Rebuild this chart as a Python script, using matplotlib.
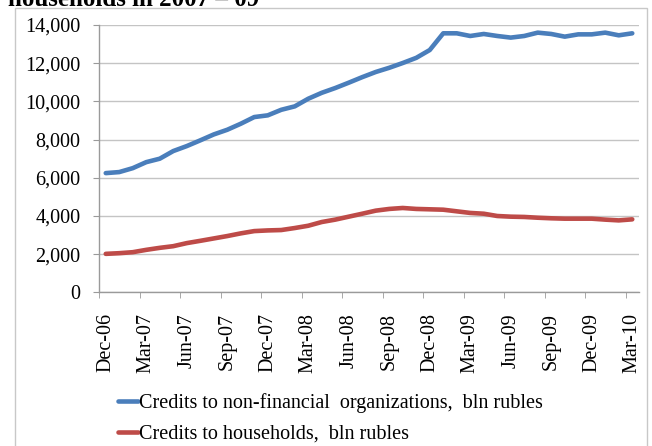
import matplotlib
matplotlib.use('Agg')
import matplotlib.pyplot as plt
import matplotlib.ticker as mticker
from matplotlib.patches import Rectangle
import numpy as np
import pandas as pd

# monthly data, Dec-06 .. Mar-10, bln rubles
months = pd.date_range('2006-12-01', periods=40, freq='MS').strftime('%b-%y').tolist()
nonfin = [6245, 6300, 6505, 6820, 7000, 7400, 7660, 7960, 8270, 8515,
          8830, 9180, 9270, 9560, 9740, 10140, 10450, 10700, 10980, 11270,
          11540, 11760, 12010, 12280, 12690, 13565, 13565, 13425, 13530, 13425,
          13340, 13425, 13600, 13530, 13390, 13510, 13510, 13600, 13460, 13565]
households = [2018, 2053, 2105, 2228, 2333, 2420, 2580, 2700, 2825, 2950,
              3090, 3210, 3245, 3265, 3370, 3490, 3685, 3810, 3965, 4120,
              4280, 4370, 4420, 4370, 4350, 4330, 4245, 4160, 4120, 4000,
              3965, 3950, 3910, 3880, 3860, 3860, 3860, 3810, 3770, 3825]
series_names = ['Credits to non-financial  organizations,  bln rubles',
                'Credits to households,  bln rubles']
title_text = 'households in 2007 – 09'

plt.rcParams['font.family'] = ['Liberation Serif', 'DejaVu Serif']
FS = 14.5

fig = plt.figure(figsize=(6.52, 4.46), dpi=100)
W, H = 652, 446
ax = fig.add_axes([99 / W, 1 - 292.4 / H, 540 / W, (292.4 - 25) / H])

x = np.arange(len(months))
l1, = ax.plot(x, nonfin, color='#4A7EBB', lw=3.3, solid_capstyle='round')
l2, = ax.plot(x, households, color='#BE4B48', lw=3.3, solid_capstyle='round')

ax.set_xlim(-0.5, len(months) - 0.5)
ax.set_ylim(0, 14000)
ax.set_yticks(range(0, 14001, 2000))
ax.yaxis.set_major_formatter(mticker.FuncFormatter(lambda v, p: f'{int(v):,}'))
ax.grid(axis='y', color='#C4C4C4', lw=1)
ax.set_axisbelow(True)

ax.set_xticks(x[::3])
ax.set_xticklabels(months[::3], rotation=90)
ax.set_xticks(np.arange(-0.5, len(months), 3), minor=True)
ax.tick_params(axis='x', which='major', length=0, pad=15, labelsize=FS)
ax.tick_params(axis='x', which='minor', length=4.5, direction='out', color='#9A9A9A')
ax.tick_params(axis='y', length=4.5, direction='out', color='#9A9A9A', pad=9, labelsize=FS)

for s in ['top', 'right']:
    ax.spines[s].set_visible(False)
for s in ['left', 'bottom']:
    ax.spines[s].set_color('#9A9A9A')
    ax.spines[s].set_linewidth(1)

fig.legend([l1, l2], series_names, loc='upper left',
           bbox_to_anchor=(118 / W, 1 - 393.5 / H), frameon=False,
           borderpad=0, borderaxespad=0, handlelength=1.0,
           handletextpad=0.05, labelspacing=0.56, fontsize=FS)

fig.text(8 / W, 1 - 6.5 / H, title_text, fontsize=18, fontweight='bold',
         va='baseline', ha='left')

fig.patches.append(Rectangle((15 / W, -0.05), 632 / W, (H - 8) / H + 0.05,
                             transform=fig.transFigure, fill=False,
                             ec='#C8C8C8', lw=1))

fig.savefig('out.png', dpi=100)
